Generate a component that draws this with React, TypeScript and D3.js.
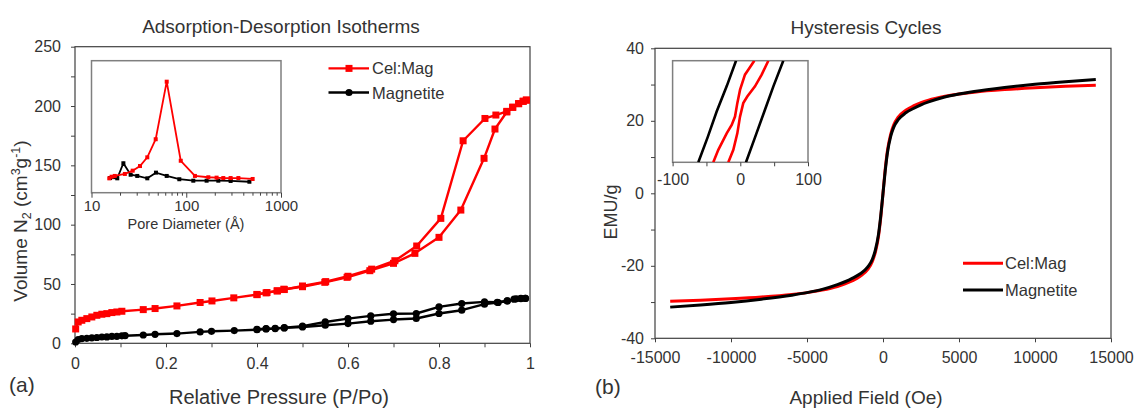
import * as d3 from "d3";
import React, { useEffect, useRef } from "react";

const FONT = "Arial, 'Liberation Sans', sans-serif";
const RED = "#ff0000";
const BLACK = "#000000";
const AXIS = "#404040";
const TEXT = "#333333";

// (a) N2 isotherms: [P/Po, volume cm3/g]
const celMagAdsorption = [
  [0.0015, 12.1], [0.007, 18], [0.015, 19.4], [0.026, 20.8], [0.037, 22.2], [0.048, 23.6],
  [0.059, 24.5], [0.07, 25], [0.081, 25.9], [0.092, 26.4], [0.103, 27], [0.15, 28.4],
  [0.176, 29.3], [0.224, 31.5], [0.275, 34.4], [0.301, 35.7], [0.349, 38.3], [0.4, 41],
  [0.422, 42.8], [0.444, 44.2], [0.459, 45.6], [0.5, 47.7], [0.549, 51.4], [0.598, 55.6],
  [0.648, 61.2], [0.7, 67.4], [0.747, 75.8], [0.8, 89.3], [0.848, 112.3], [0.899, 155.9],
  [0.923, 180.6], [0.949, 195], [0.962, 198.9], [0.975, 202], [0.985, 204], [0.992, 205],
];
const celMagDesorption = [
  [0.992, 205], [0.985, 204], [0.975, 202], [0.962, 199], [0.949, 195.5], [0.925, 192.4],
  [0.901, 189.5], [0.853, 170.7], [0.804, 105.3], [0.751, 82], [0.703, 69.6], [0.652, 62.5],
  [0.6, 56.5], [0.551, 52], [0.5, 48.3], [0.46, 45.3], [0.445, 44.2], [0.42, 42.5], [0.4, 41.2],
];
const magnetiteAdsorption = [
  [0.0015, 1.1], [0.007, 3.1], [0.015, 4], [0.026, 4.2], [0.037, 4.6], [0.048, 4.9],
  [0.059, 5.3], [0.07, 5.4], [0.081, 5.8], [0.092, 5.9], [0.103, 6.3], [0.11, 6.4],
  [0.15, 7], [0.176, 7.6], [0.224, 8.2], [0.275, 9.6], [0.3, 10.1], [0.35, 10.7], [0.4, 11.5],
  [0.42, 12.1], [0.44, 12.4], [0.46, 13], [0.5, 13.8], [0.55, 15.2], [0.6, 16.6], [0.65, 18.6],
  [0.7, 20], [0.75, 20.9], [0.8, 25.1], [0.85, 27.9], [0.9, 33], [0.93, 34.4], [0.95, 35.7],
  [0.97, 37.5], [0.98, 37.8], [0.99, 37.8],
];
const magnetiteDesorption = [
  [0.99, 37.8], [0.98, 37.7], [0.965, 37.2], [0.95, 35.8], [0.928, 34.6], [0.9, 34.9],
  [0.85, 33.5], [0.8, 30.7], [0.75, 25.1], [0.7, 24.9], [0.65, 23.1], [0.6, 20.8],
  [0.55, 18], [0.5, 14.4], [0.46, 13.2], [0.44, 12.6], [0.42, 12.3], [0.4, 11.8],
];

// (a) inset: pore size distribution [diameter Å, relative value]
const celMagPores = [
  [15.4, 10.9], [16.3, 12.1], [17.6, 12.7], [22.5, 14.2], [27.2, 16.7], [32.5, 20.2],
  [38.8, 26.8], [47.6, 40.5], [62.2, 84.1], [87.5, 24.2], [123.5, 12.7], [171, 11.7],
  [209, 11.4], [246, 11.1], [294, 11.1], [355, 11.1], [502, 10.4],
];
const magnetitePores = [
  [15.7, 11.1], [18.7, 10.9], [21.7, 22.3], [25.9, 13.6], [30.4, 12.7], [38.8, 10.9],
  [47.9, 15.2], [62.2, 12.7], [84.5, 10.2], [118.7, 9.1], [164, 9.1], [218, 9.1],
  [294, 8.9], [464, 8.3],
];

// (b) hysteresis: field (Oe) and magnetisation (EMU/g)
const fieldOe = [
  -14000, -12000, -10000, -8000, -6000, -5000, -4000, -3000, -2500, -2000, -1500, -1000,
  -700, -500, -300, -150, 0, 150, 300, 500, 700, 1000, 1500, 2000, 2500, 3000, 4000, 5000,
  6000, 8000, 10000, 12000, 14000,
];
const celMagEmu = [
  -29.8, -29.5, -29.1, -28.6, -27.9, -27.4, -26.7, -25.7, -25.0, -24.1, -22.9, -21.0,
  -18.8, -16.2, -12.0, -6.8, 0, 6.8, 12.0, 16.2, 18.8, 21.0, 22.9, 24.1, 25.0, 25.7, 26.7,
  27.4, 27.9, 28.6, 29.1, 29.5, 29.8,
];
const magnetiteEmu = [
  -31.4, -30.8, -30.1, -29.2, -28.1, -27.4, -26.5, -25.2, -24.4, -23.4, -22.2, -20.3,
  -18.2, -15.6, -11.4, -6.3, 0, 6.3, 11.4, 15.6, 18.2, 20.3, 22.2, 23.4, 24.4, 25.2, 26.5,
  27.4, 28.1, 29.2, 30.1, 30.8, 31.4,
];

// (b) inset: branches near zero field [Oe, EMU/g]
const celMagLeftBranch = [
  [-39.9, -2.0], [-32.5, -1.51], [-20.1, -0.86], [-12.7, -0.53], [-7.8, -0.2], [-4.4, 0.33],
  [-0.4, 0.85], [6.9, 1.45], [11.8, 1.64], [20.7, 2.0],
];
const celMagRightBranch = [
  [-17.7, -2.0], [-10.3, -1.51], [-4.4, -0.86], [-0.4, -0.2], [4.4, 0.33], [10.3, 0.59],
  [21.7, 0.99], [31.6, 1.45], [41.4, 2.0],
];
const magnetiteLeftBranch = [[-62, -2.0], [-48, -1.0], [-34.9, 0], [-20, 1.0], [-6.3, 2.0]];
const magnetiteRightBranch = [[8.4, -2.0], [22, -1.0], [35.5, 0], [49, 1.0], [63.5, 2.0]];

const isoXTicks = d3.range(0, 11).map((i) => i / 10);
const isoYTicks = d3.range(0, 11).map((i) => i * 25);
const hysXTicks = [-15000, -10000, -5000, 0, 5000, 10000, 15000];
const hysYTicks = [-40, -30, -20, -10, 0, 10, 20, 30, 40];
const insetHTicks = [-100, -50, 0, 50, 100];

function styleAxis(g: any, size: number) {
  g.attr("font-family", FONT).attr("font-size", size);
  g.select(".domain").remove();
  g.selectAll("line").attr("stroke", AXIS).attr("stroke-width", 1);
  g.selectAll("text").attr("fill", TEXT);
}

export default function App() {
  const ref = useRef<SVGSVGElement>(null);

  useEffect(() => {
    const svg = d3.select(ref.current);
    svg.selectAll("*").remove();

    // ---------------- (a) isotherms ----------------
    const x = d3.scaleLinear().domain([0, 1]).range([75, 530]);
    const y = d3.scaleLinear().domain([0, 250]).range([343.3, 46.7]);

    svg.append("g").attr("transform", `translate(0,${y(0)})`)
      .call(d3.axisBottom(x).tickValues(isoXTicks).tickSize(4).tickPadding(10)
        .tickFormat((d: any) => (Math.round(d * 10) % 2 === 0 ? String(+d.toFixed(1)) : "")))
      .call((g: any) => styleAxis(g, 16));
    svg.append("g").attr("transform", `translate(${x(0)},0)`)
      .call(d3.axisLeft(y).tickValues(isoYTicks).tickSize(4).tickPadding(10)
        .tickFormat((d: any) => (d % 50 === 0 ? String(d) : "")))
      .call((g: any) => styleAxis(g, 16));
    svg.append("rect").attr("x", x(0)).attr("y", y(250)).attr("width", x(1) - x(0))
      .attr("height", y(0) - y(250)).attr("fill", "none").attr("stroke", AXIS).attr("stroke-width", 1.2);

    const isoLine = d3.line<number[]>().x((d) => x(d[0])).y((d) => y(d[1]));
    const isoSeries = [
      { data: celMagAdsorption, color: RED, marker: "square" },
      { data: celMagDesorption, color: RED, marker: "square" },
      { data: magnetiteAdsorption, color: BLACK, marker: "circle" },
      { data: magnetiteDesorption, color: BLACK, marker: "circle" },
    ];
    isoSeries.forEach((s) => {
      svg.append("path").attr("d", isoLine(s.data)).attr("fill", "none")
        .attr("stroke", s.color).attr("stroke-width", 2.4).attr("stroke-linejoin", "round");
      if (s.marker === "square") {
        svg.append("g").selectAll("rect").data(s.data).join("rect")
          .attr("x", (d) => x(d[0]) - 3.5).attr("y", (d) => y(d[1]) - 3.5)
          .attr("width", 7).attr("height", 7).attr("fill", s.color);
      } else {
        svg.append("g").selectAll("circle").data(s.data).join("circle")
          .attr("cx", (d) => x(d[0])).attr("cy", (d) => y(d[1])).attr("r", 3.6).attr("fill", s.color);
      }
    });

    // legend (a)
    const legA = [
      { label: "Cel:Mag", color: RED, marker: "square", y: 68.4 },
      { label: "Magnetite", color: BLACK, marker: "circle", y: 92.5 },
    ];
    legA.forEach((l) => {
      svg.append("line").attr("x1", 328.5).attr("x2", 369).attr("y1", l.y).attr("y2", l.y)
        .attr("stroke", l.color).attr("stroke-width", 2.4);
      if (l.marker === "square") {
        svg.append("rect").attr("x", 345.5).attr("y", l.y - 3.5).attr("width", 7).attr("height", 7).attr("fill", l.color);
      } else {
        svg.append("circle").attr("cx", 349).attr("cy", l.y).attr("r", 3.6).attr("fill", l.color);
      }
      svg.append("text").attr("x", 372).attr("y", l.y + 6).attr("font-family", FONT)
        .attr("font-size", 16.5).attr("fill", TEXT).text(l.label);
    });

    // inset (a)
    const ix = d3.scaleLog().domain([10, 1000]).range([91.5, 281]);
    const iy = d3.scaleLinear().domain([0, 100]).range([192.7, 60.7]);
    svg.append("rect").attr("x", ix(10)).attr("y", iy(100)).attr("width", ix(1000) - ix(10))
      .attr("height", iy(0) - iy(100)).attr("fill", "#fff").attr("stroke", "#7f7f7f").attr("stroke-width", 1.5);
    const logTicks = ix.ticks();
    svg.append("g").attr("transform", `translate(0,${iy(0)})`)
      .call(d3.axisBottom(ix).tickValues(logTicks).tickSize(3).tickPadding(5)
        .tickFormat((d: any) => ([10, 100, 1000].includes(d) ? String(d) : "")))
      .call((g: any) => styleAxis(g, 15))
      .call((g: any) => g.selectAll(".tick line").filter((d: any) => [10, 100, 1000].includes(d)).attr("y2", 5));
    const poreLine = d3.line<number[]>().x((d) => ix(d[0])).y((d) => iy(d[1]));
    [
      { data: magnetitePores, color: BLACK },
      { data: celMagPores, color: RED },
    ].forEach((s) => {
      svg.append("path").attr("d", poreLine(s.data)).attr("fill", "none")
        .attr("stroke", s.color).attr("stroke-width", 1.8);
      svg.append("g").selectAll("rect").data(s.data).join("rect")
        .attr("x", (d) => ix(d[0]) - 2).attr("y", (d) => iy(d[1]) - 2)
        .attr("width", 4).attr("height", 4).attr("fill", s.color);
    });
    svg.append("text").attr("x", 186).attr("y", 228.5).attr("text-anchor", "middle")
      .attr("font-family", FONT).attr("font-size", 14.5).attr("fill", TEXT).text("Pore Diameter (Å)");

    // titles / labels (a)
    svg.append("text").attr("x", 281).attr("y", 33).attr("text-anchor", "middle")
      .attr("font-family", FONT).attr("font-size", 19).attr("fill", TEXT).text("Adsorption-Desorption Isotherms");
    svg.append("text").attr("x", 279).attr("y", 404).attr("text-anchor", "middle")
      .attr("font-family", FONT).attr("font-size", 20).attr("fill", TEXT).text("Relative Pressure (P/Po)");
    const yl = svg.append("text").attr("transform", "translate(27,221) rotate(-90)").attr("text-anchor", "middle")
      .attr("font-family", FONT).attr("font-size", 19).attr("fill", TEXT);
    yl.append("tspan").text("Volume N");
    yl.append("tspan").attr("font-size", 12.5).attr("dy", 4).text("2");
    yl.append("tspan").attr("dy", -4).text(" (cm");
    yl.append("tspan").attr("font-size", 12.5).attr("dy", -7).text("3");
    yl.append("tspan").attr("dy", 7).text("g");
    yl.append("tspan").attr("font-size", 12.5).attr("dy", -7).text("-1");
    yl.append("tspan").attr("dy", 7).text(")");
    svg.append("text").attr("x", 9).attr("y", 392).attr("font-family", FONT)
      .attr("font-size", 21).attr("fill", TEXT).text("(a)");

    // ---------------- (b) hysteresis ----------------
    const hx = d3.scaleLinear().domain([-15000, 15000]).range([655, 1111]);
    const hy = d3.scaleLinear().domain([-40, 40]).range([338.3, 48.3]);
    svg.append("g").attr("transform", `translate(0,${hy(-40)})`)
      .call(d3.axisBottom(hx).tickValues(hysXTicks).tickSize(4).tickPadding(9).tickFormat((d: any) => String(d)))
      .call((g: any) => styleAxis(g, 16));
    svg.append("g").attr("transform", `translate(${hx(-15000)},0)`)
      .call(d3.axisLeft(hy).tickValues(hysYTicks).tickSize(4).tickPadding(7)
        .tickFormat((d: any) => (d % 20 === 0 ? String(d) : "")))
      .call((g: any) => styleAxis(g, 16));
    svg.append("rect").attr("x", hx(-15000)).attr("y", hy(40)).attr("width", hx(15000) - hx(-15000))
      .attr("height", hy(-40) - hy(40)).attr("fill", "none").attr("stroke", AXIS).attr("stroke-width", 1.2);

    const hysLine = d3.line<number>().x((d, i) => hx(fieldOe[i])).y((d) => hy(d)).curve(d3.curveMonotoneX);
    svg.append("path").attr("d", hysLine(celMagEmu)).attr("fill", "none").attr("stroke", RED).attr("stroke-width", 3);
    svg.append("path").attr("d", hysLine(magnetiteEmu)).attr("fill", "none").attr("stroke", BLACK).attr("stroke-width", 3);

    const legB = [
      { label: "Cel:Mag", color: RED, y: 263.3 },
      { label: "Magnetite", color: BLACK, y: 290 },
    ];
    legB.forEach((l) => {
      svg.append("line").attr("x1", 963).attr("x2", 1003).attr("y1", l.y).attr("y2", l.y)
        .attr("stroke", l.color).attr("stroke-width", 3);
      svg.append("text").attr("x", 1005).attr("y", l.y + 6).attr("font-family", FONT)
        .attr("font-size", 16.5).attr("fill", TEXT).text(l.label);
    });

    // inset (b)
    const bx = d3.scaleLinear().domain([-100, 100]).range([672.6, 808]);
    const by = d3.scaleLinear().domain([-2, 2]).range([162.3, 60.7]);
    svg.append("defs").append("clipPath").attr("id", "insetb").append("rect")
      .attr("x", bx(-100)).attr("y", by(2)).attr("width", bx(100) - bx(-100)).attr("height", by(-2) - by(2));
    svg.append("rect").attr("x", bx(-100)).attr("y", by(2)).attr("width", bx(100) - bx(-100))
      .attr("height", by(-2) - by(2)).attr("fill", "#fff").attr("stroke", "#7f7f7f").attr("stroke-width", 1.5);
    svg.append("g").attr("transform", `translate(0,${by(-2)})`)
      .call(d3.axisBottom(bx).tickValues(insetHTicks).tickSize(4).tickPadding(7)
        .tickFormat((d: any) => (d % 100 === 0 ? String(d) : "")))
      .call((g: any) => styleAxis(g, 16));
    const branchLine = d3.line<number[]>().x((d) => bx(d[0])).y((d) => by(d[1]));
    const insetG = svg.append("g").attr("clip-path", "url(#insetb)");
    [
      { data: magnetiteLeftBranch, color: BLACK },
      { data: magnetiteRightBranch, color: BLACK },
      { data: celMagLeftBranch, color: RED },
      { data: celMagRightBranch, color: RED },
    ].forEach((s) => {
      insetG.append("path").attr("d", branchLine(s.data)).attr("fill", "none")
        .attr("stroke", s.color).attr("stroke-width", 2.6);
    });

    svg.append("text").attr("x", 866).attr("y", 34).attr("text-anchor", "middle")
      .attr("font-family", FONT).attr("font-size", 19).attr("fill", TEXT).text("Hysteresis Cycles");
    svg.append("text").attr("x", 866).attr("y", 404).attr("text-anchor", "middle")
      .attr("font-family", FONT).attr("font-size", 19).attr("fill", TEXT).text("Applied Field (Oe)");
    svg.append("text").attr("transform", "translate(617,212) rotate(-90)").attr("text-anchor", "middle")
      .attr("font-family", FONT).attr("font-size", 18).attr("fill", TEXT).text("EMU/g");
    svg.append("text").attr("x", 595).attr("y", 394).attr("font-family", FONT)
      .attr("font-size", 21).attr("fill", TEXT).text("(b)");
  }, []);

  return (
    <svg
      ref={ref}
      width={1134}
      height={408}
      style={{ position: "absolute", left: 0, top: 0, background: "#fff" }}
    ></svg>
  );
}
